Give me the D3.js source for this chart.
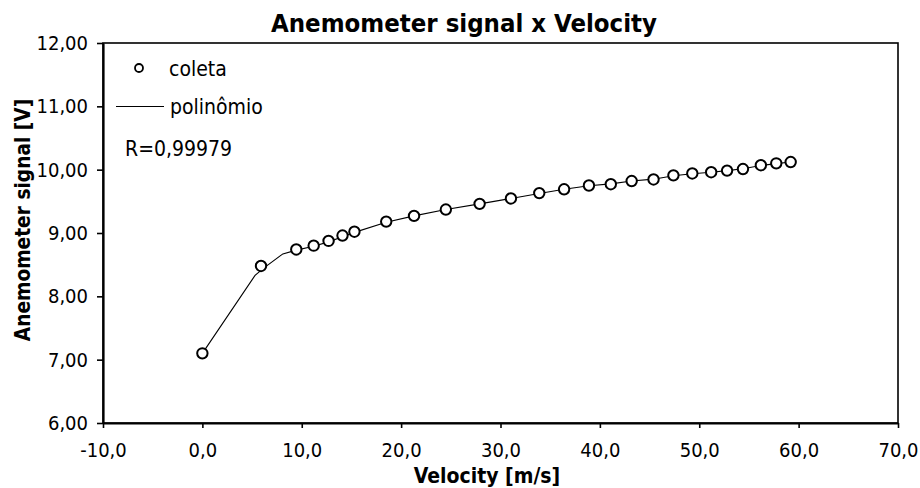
<!DOCTYPE html>
<html><head><meta charset="utf-8">
<script src="https://cdn.jsdelivr.net/npm/d3@7"></script>
<style>
html,body{margin:0;padding:0;background:#fff;}
text{font-family:"DejaVu Sans Condensed","DejaVu Sans",sans-serif;font-stretch:condensed;fill:#000;}
</style></head><body>
<svg id="chart" width="920" height="488"></svg>
<script>
// Data: collected points (coleta)
const velocity = [0.0, 5.9, 9.45, 11.2, 12.7, 14.1, 15.3, 18.5, 21.3, 24.5, 27.9, 31.05, 33.9, 36.4, 38.9, 41.1, 43.2, 45.4, 47.4, 49.3, 51.2, 52.8, 54.4, 56.2, 57.75, 59.2];
const signal   = [7.10, 8.48, 8.74, 8.80, 8.875, 8.96, 9.02, 9.18, 9.27, 9.37, 9.46, 9.545, 9.63, 9.69, 9.75, 9.77, 9.82, 9.845, 9.91, 9.94, 9.96, 9.985, 10.01, 10.07, 10.10, 10.12];
// Polynomial fit curve (polinômio)
const polyX = [0.0, 5.3, 6.2, 8.1, 9.45, 11.2, 12.7, 14.1, 15.3, 18.5, 21.3, 24.5, 27.9, 31.05, 33.9, 36.4, 38.9, 41.1, 43.2, 45.4, 47.4, 49.3, 51.2, 52.8, 54.4, 56.2, 57.75, 59.2];
const polyY = [7.10, 8.33, 8.45, 8.67, 8.73, 8.79, 8.86, 8.94, 9.01, 9.17, 9.27, 9.37, 9.46, 9.545, 9.625, 9.69, 9.745, 9.775, 9.82, 9.85, 9.905, 9.935, 9.96, 9.985, 10.015, 10.065, 10.095, 10.12];
const xTicks = [-10, 0, 10, 20, 30, 40, 50, 60, 70];
const yTicks = [6, 7, 8, 9, 10, 11, 12];
const title = "Anemometer signal x Velocity";
const xTitle = "Velocity [m/s]";
const yTitle = "Anemometer signal [V]";
const legendLabels = ["coleta", "polinômio"];
const rText = "R=0,99979";

const svg = d3.select("#chart");
const L = 103, R = 898, T = 43, B = 423;
const x = d3.scaleLinear().domain([-10, 70]).range([L, R]);
const y = d3.scaleLinear().domain([6, 12]).range([B, T]);
const fmtX = v => d3.format(".1f")(v).replace(".", ",").replace("\u2212", "-");
const fmtY = v => d3.format(".2f")(v).replace(".", ",");

// frame
svg.append("rect").attr("x", L).attr("y", T).attr("width", R - L).attr("height", B - T)
  .attr("fill", "none").attr("stroke", "#000").attr("stroke-width", 1.6);

// axes
const xAxis = svg.append("g").attr("transform", `translate(0,${B})`)
  .call(d3.axisBottom(x).tickValues(xTicks).tickFormat(fmtX).tickSizeOuter(0).tickSizeInner(5).tickPadding(15));
const yAxis = svg.append("g").attr("transform", `translate(${L},0)`)
  .call(d3.axisLeft(y).tickValues(yTicks).tickFormat(fmtY).tickSizeOuter(0).tickSizeInner(6).tickPadding(9));
[xAxis, yAxis].forEach(g => {
  g.select(".domain").attr("stroke", "#000").attr("stroke-width", 2.2);
  g.selectAll(".tick line").attr("stroke", "#000").attr("stroke-width", 1.6);
  g.selectAll(".tick text").style("font-size", "20px").attr("fill", "#000");
});
xAxis.selectAll(".tick text").attr("dy", "0.71em");

// line
const line = d3.line().x((d, i) => x(polyX[i])).y((d, i) => y(polyY[i]));
svg.append("path").datum(polyX).attr("d", line).attr("fill", "none")
  .attr("stroke", "#000").attr("stroke-width", 1.1);

// points
svg.append("g").selectAll("circle").data(velocity).join("circle")
  .attr("cx", (d) => x(d)).attr("cy", (d, i) => y(signal[i])).attr("r", 5.2)
  .attr("fill", "#fff").attr("stroke", "#000").attr("stroke-width", 2);

// titles
svg.append("text").attr("x", 464).attr("y", 32).attr("text-anchor", "middle")
  .style("font-size", "25.5px").style("font-weight", "bold").text(title);
svg.append("text").attr("x", 487).attr("y", 483).attr("text-anchor", "middle")
  .style("font-size", "21px").style("font-weight", "bold").text(xTitle);
svg.append("text").attr("transform", "translate(30,220) rotate(-90)").attr("text-anchor", "middle")
  .style("font-size", "20.7px").style("font-weight", "bold").text(yTitle);

// legend
svg.append("circle").attr("cx", 139).attr("cy", 68).attr("r", 4)
  .attr("fill", "#fff").attr("stroke", "#000").attr("stroke-width", 1.8);
svg.append("text").attr("x", 169).attr("y", 75.5).style("font-size", "21px").text(legendLabels[0]);
svg.append("line").attr("x1", 116).attr("x2", 164).attr("y1", 106.5).attr("y2", 106.5)
  .attr("stroke", "#000").attr("stroke-width", 1.2);
svg.append("text").attr("x", 170).attr("y", 114).style("font-size", "21px").text(legendLabels[1]);
svg.append("text").attr("x", 125).attr("y", 156).style("font-size", "21px").text(rText);
</script></body></html>
